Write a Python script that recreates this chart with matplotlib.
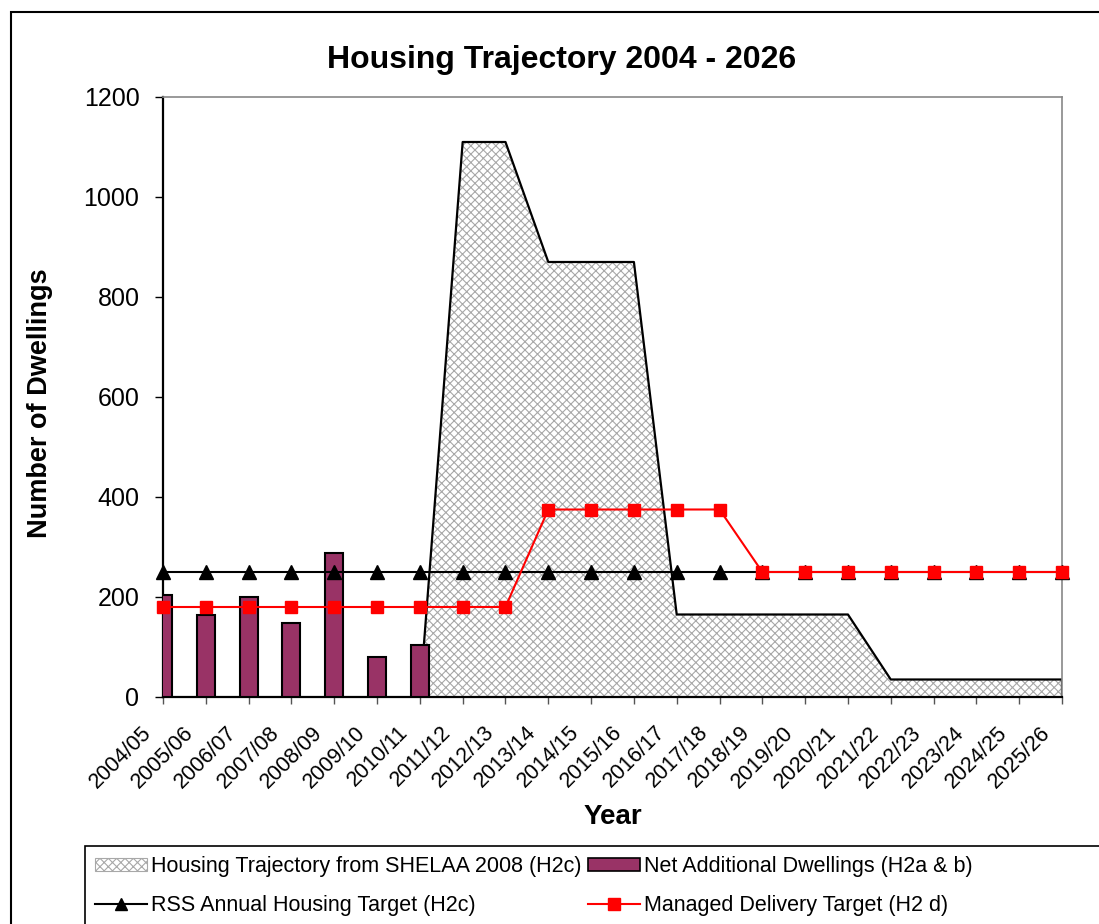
import matplotlib.pyplot as plt
from matplotlib.patches import Rectangle, Patch
from matplotlib.lines import Line2D
from matplotlib.transforms import ScaledTranslation

plt.rcParams['font.family'] = ['Liberation Sans', 'DejaVu Sans']
plt.rcParams['hatch.linewidth'] = 0.8

years = ['2004/05', '2005/06', '2006/07', '2007/08', '2008/09', '2009/10', '2010/11',
         '2011/12', '2012/13', '2013/14', '2014/15', '2015/16', '2016/17', '2017/18',
         '2018/19', '2019/20', '2020/21', '2021/22', '2022/23', '2023/24', '2024/25', '2025/26']
trajectory = [0, 0, 0, 0, 0, 0, 0, 1110, 1110, 870, 870, 870, 165, 165, 165, 165, 165,
              35, 35, 35, 35, 35]
net_additional = [205, 165, 200, 148, 288, 80, 105]
rss_target = [250] * 22
managed_target = [180, 180, 180, 180, 180, 180, 180, 180, 180, 375, 375, 375, 375, 375,
                  250, 250, 250, 250, 250, 250, 250, 250]

W, H = 1099, 924
fig = plt.figure(figsize=(W / 100, H / 100), dpi=100)
ax = fig.add_axes([163 / W, 1 - 697 / H, (1062 - 163) / W, 600 / H])

x = list(range(len(years)))
traj_start = 6
ax.fill_between(x[traj_start:], trajectory[traj_start:], 0, facecolor='white',
                hatch='xxxx', edgecolor='#a8a8a8', linewidth=0, zorder=1)
ax.plot(x[traj_start:] + [x[-1]], trajectory[traj_start:] + [0], color='black', lw=1.6, zorder=2)

ax.bar(x[:len(net_additional)], net_additional, width=0.42, color='#993366',
       edgecolor='black', linewidth=1.5, zorder=3)

ax.plot(x, rss_target, color='black', lw=1.5, marker='^', markersize=10, clip_on=False, zorder=4)
ax.plot(x, managed_target, color='#ff0000', lw=1.5, marker='s', markersize=9,
        clip_on=False, zorder=5)

ax.set_xlim(0, len(years) - 1)
ax.set_ylim(0, 1200)
ax.set_yticks(range(0, 1201, 200))
ax.set_xticks(x)
ax.tick_params(axis='y', labelsize=18, length=6, width=1, direction='out', pad=11)
ax.tick_params(axis='x', length=5, width=1, color='#555555', direction='out', pad=4)
ax.set_xticklabels(years, rotation=45, ha='right', va='center', rotation_mode='anchor',
                   fontsize=15.5)
# nudge the slanted year labels down-left like the original
shift = ScaledTranslation(-15 / 100, -20 / 100, fig.dpi_scale_trans)
for lab in ax.get_xticklabels():
    lab.set_transform(lab.get_transform() + shift)
for s in ['top', 'right']:
    ax.spines[s].set_color('#888888')
    ax.spines[s].set_linewidth(1.2)
for s in ['left', 'bottom']:
    ax.spines[s].set_linewidth(1.6)

ax.set_ylabel('Number of Dwellings', fontsize=19.5, fontweight='bold')
ax.yaxis.set_label_coords(-(163 - 40) / (1062 - 163), 0.49)
ax.set_xlabel('Year', fontsize=20, fontweight='bold')
ax.xaxis.set_label_coords(0.5, -(817 - 697) / 600, transform=ax.transAxes)
ax.xaxis.label.set_va('center')
ax.yaxis.label.set_va('center')

fig.text(562 / W, 1 - 60 / H, 'Housing Trajectory 2004 - 2026', fontsize=23,
         fontweight='bold', ha='center', va='center')

# outer chart frame and legend box
fig.patches.append(Rectangle((11 / W, -0.05), 1.1, 1 - 12 / H + 0.05, transform=fig.transFigure,
                             fill=False, edgecolor='black', lw=1.5))
fig.patches.append(Rectangle((85 / W, -0.05), 1.1, 1 - 846 / H + 0.05, transform=fig.transFigure,
                             fill=False, edgecolor='black', lw=1.2))

handles = [
    Patch(facecolor='white', hatch='xxxx', edgecolor='#a8a8a8', linewidth=0.8),
    Line2D([], [], color='black', lw=1.5, marker='^', markersize=9),
    Patch(facecolor='#993366', edgecolor='black', linewidth=1.2),
    Line2D([], [], color='#ff0000', lw=1.5, marker='s', markersize=8),
]
labels = ['Housing Trajectory from SHELAA 2008 (H2c)', 'RSS Annual Housing Target (H2c)',
          'Net Additional Dwellings (H2a & b)', 'Managed Delivery Target (H2 d)']
fig.legend(handles, labels, ncol=2, loc='upper left', bbox_to_anchor=(95 / W, 1 - 856 / H),
           frameon=False, prop={'size': 15.5}, borderpad=0, borderaxespad=0,
           handlelength=2.4, handleheight=0.6, handletextpad=0.2, columnspacing=0.3,
           labelspacing=0.85)

fig.savefig('out.png', dpi=100)
